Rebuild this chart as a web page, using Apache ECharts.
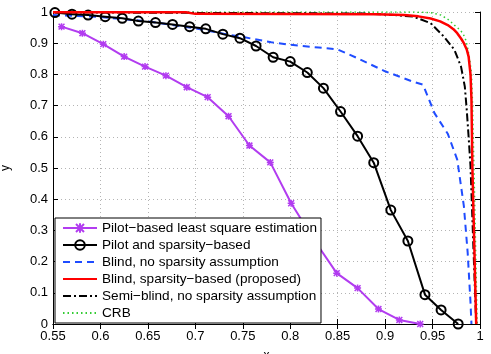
<!DOCTYPE html>
<html>
<head>
<meta charset="utf-8">
<script src="https://cdn.jsdelivr.net/npm/echarts@6/dist/echarts.min.js"></script>
<style>
  html, body { margin: 0; padding: 0; background: #fff; }
  #chart { width: 491px; height: 354px; }
</style>
</head>
<body>
<div id="chart"></div>
<script>
// values
var seriesNames = [
  'Pilot\u2212based least square estimation',
  'Pilot and sparsity\u2212based',
  'Blind, no sparsity assumption',
  'Blind, sparsity\u2212based (proposed)',
  'Semi\u2212blind, no sparsity assumption',
  'CRB'
];

var lsX = [0.559, 0.581, 0.603, 0.625, 0.647, 0.669, 0.691, 0.713, 0.735, 0.757, 0.779, 0.801, 0.825, 0.849, 0.871, 0.893, 0.915, 0.937];
var lsY = [0.953, 0.932, 0.897, 0.857, 0.825, 0.796, 0.759, 0.727, 0.666, 0.572, 0.518, 0.387, 0.27, 0.163, 0.115, 0.048, 0.013, 0];

var pasX = [0.552, 0.570, 0.587, 0.605, 0.623, 0.640, 0.658, 0.676, 0.694, 0.711, 0.729, 0.747, 0.764, 0.782, 0.800, 0.818, 0.835, 0.853, 0.871, 0.888, 0.906, 0.924, 0.942, 0.959, 0.977];
var pasY = [0.998, 0.993, 0.990, 0.985, 0.980, 0.971, 0.966, 0.960, 0.953, 0.946, 0.929, 0.916, 0.891, 0.855, 0.841, 0.806, 0.756, 0.681, 0.602, 0.517, 0.365, 0.266, 0.094, 0.045, 0];

var blindX = [0.55, 0.60, 0.65, 0.70, 0.73, 0.75, 0.78, 0.80, 0.83, 0.85, 0.87, 0.90, 0.93, 0.94, 0.952, 0.966, 0.976, 0.983, 0.987, 0.990, 0.991];
var blindY = [0.99, 0.984, 0.97, 0.948, 0.93, 0.92, 0.903, 0.895, 0.886, 0.88, 0.853, 0.81, 0.776, 0.767, 0.676, 0.61, 0.527, 0.378, 0.229, 0.069, 0];

var propX = [0.55, 0.69, 0.70, 0.89, 0.92, 0.935, 0.948, 0.958, 0.966, 0.972, 0.976, 0.980, 0.983, 0.986, 0.988, 0.990, 0.991, 0.992, 0.994, 0.996];
var propY = [0.999, 0.999, 0.994, 0.993, 0.99, 0.986, 0.979, 0.970, 0.958, 0.945, 0.932, 0.915, 0.90, 0.88, 0.857, 0.80, 0.72, 0.50, 0.25, 0];

var semiX = [0.55, 0.88, 0.91, 0.93, 0.948, 0.962, 0.973, 0.980, 0.984, 0.986, 0.988, 0.990, 0.993, 0.996];
var semiY = [0.999, 0.995, 0.99, 0.985, 0.964, 0.921, 0.879, 0.825, 0.761, 0.687, 0.60, 0.506, 0.25, 0];

var crbX = [0.55, 0.93, 0.948, 0.959, 0.967, 0.973, 0.978, 0.982, 0.985, 0.987, 0.989, 0.991, 0.992, 0.994, 0.997];
var crbY = [1, 1, 0.998, 0.99, 0.975, 0.958, 0.945, 0.932, 0.91, 0.884, 0.85, 0.804, 0.72, 0.45, 0];

function zip (xs, ys) {
  return xs.map(function (x, i) { return [x, ys[i]]; });
}

var font = 'Liberation Sans, Arial, Helvetica, sans-serif';
var fmt = function (v) { return String(+v.toFixed(2)); };
var starPath = 'path://M0,0L10,10M10,0L0,10M5,-1L5,11M-1,5L11,5';
var clear = 'rgba(0,0,0,0)';

var chart = echarts.init(document.getElementById('chart'), null, { renderer: 'canvas' });

var boxAxis = {
  show: true,
  axisLine: { show: true, lineStyle: { color: '#000', width: 1 } },
  axisTick: { show: true, inside: true, length: 5, lineStyle: { color: '#000' } },
  axisLabel: { show: false },
  splitLine: { show: false }
};

chart.setOption({
  animation: false,
  backgroundColor: '#fff',
  textStyle: { fontFamily: font },
  grid: { left: 53, right: 11, top: 12, bottom: 30, outerBoundsMode: 'none', containLabel: false },
  xAxis: [
    {
      type: 'value', min: 0.55, max: 1, interval: 0.05, position: 'bottom',
      name: 'x', nameLocation: 'middle', nameGap: 26,
      nameTextStyle: { fontSize: 12, color: '#000', fontFamily: font },
      axisLine: { show: true, lineStyle: { color: '#000', width: 1 } },
      axisTick: { show: true, inside: true, length: 5, lineStyle: { color: '#000' } },
      axisLabel: { color: '#000', fontSize: 13, fontFamily: font, margin: 6, formatter: fmt },
      splitLine: { show: true, lineStyle: { color: '#b4b4b4', type: [1, 3], width: 1 } }
    },
    Object.assign({ type: 'value', min: 0.55, max: 1, interval: 0.05, position: 'top' }, boxAxis)
  ],
  yAxis: [
    {
      type: 'value', min: 0, max: 1, interval: 0.1, position: 'left',
      name: 'y', nameLocation: 'middle', nameGap: 41, nameRotate: 90,
      nameTextStyle: { fontSize: 12, color: '#000', fontFamily: font },
      axisLine: { show: true, lineStyle: { color: '#000', width: 1 } },
      axisTick: { show: true, inside: true, length: 5, lineStyle: { color: '#000' } },
      axisLabel: { color: '#000', fontSize: 13, fontFamily: font, margin: 5, formatter: fmt },
      splitLine: { show: true, lineStyle: { color: '#b4b4b4', type: [1, 3], width: 1 } }
    },
    Object.assign({ type: 'value', min: 0, max: 1, interval: 0.1, position: 'right' }, boxAxis)
  ],
  legend: {
    orient: 'vertical',
    left: 55, top: 218,
    padding: [3, 4, 3, 7],
    itemWidth: 34, itemHeight: 12, itemGap: 3,
    backgroundColor: '#fff',
    borderColor: '#000', borderWidth: 1, borderRadius: 0,
    textStyle: { fontSize: 13.6, color: '#000', fontFamily: font },
    data: seriesNames
  },
  series: [
    {
      name: seriesNames[0], type: 'line', data: zip(lsX, lsY), z: 3,
      symbol: starPath, symbolSize: 7, showSymbol: true,
      lineStyle: { color: '#b23cf0', width: 2 },
      itemStyle: { color: clear, borderColor: '#b23cf0', borderWidth: 1.5 }
    },
    {
      name: seriesNames[1], type: 'line', data: zip(pasX, pasY), z: 4,
      symbol: 'circle', symbolSize: 9,
      lineStyle: { color: '#000', width: 2 },
      itemStyle: { color: clear, borderColor: '#000', borderWidth: 2 }
    },
    {
      name: seriesNames[2], type: 'line', data: zip(blindX, blindY), z: 3,
      symbol: 'none',
      lineStyle: { color: '#1f4cff', width: 2, type: [7, 5] },
      itemStyle: { color: clear, borderWidth: 0 }
    },
    {
      name: seriesNames[3], type: 'line', data: zip(propX, propY), z: 5,
      symbol: 'none',
      lineStyle: { color: '#ff0000', width: 2.5 },
      itemStyle: { color: clear, borderWidth: 0 }
    },
    {
      name: seriesNames[4], type: 'line', data: zip(semiX, semiY), z: 4,
      symbol: 'none',
      lineStyle: { color: '#000', width: 2, type: [8, 3, 2, 3] },
      itemStyle: { color: clear, borderWidth: 0 }
    },
    {
      name: seriesNames[5], type: 'line', data: zip(crbX, crbY), z: 3,
      symbol: 'none',
      lineStyle: { color: '#33cc33', width: 1.5, type: [1.5, 3] },
      itemStyle: { color: clear, borderWidth: 0 }
    }
  ]
});
</script>
</body>
</html>
